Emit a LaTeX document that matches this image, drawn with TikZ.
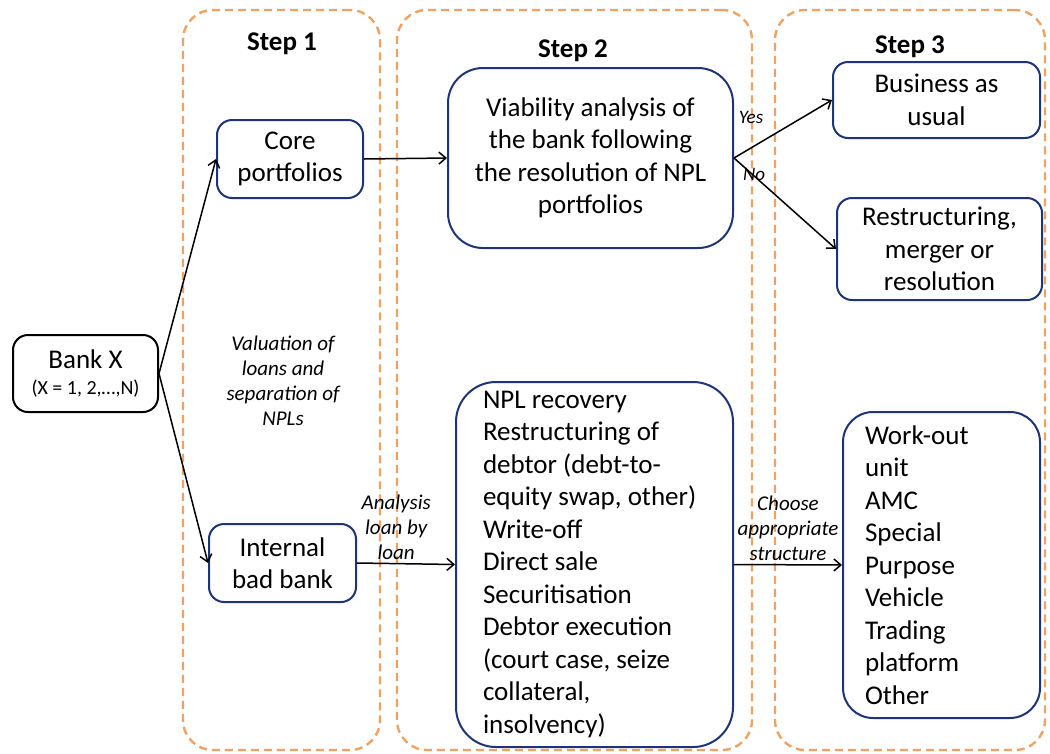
\documentclass[tikz,border=0pt]{standalone}
\usepackage{fontspec}
\setmainfont{Carlito}
\usetikzlibrary{positioning,arrows.meta,calc}

\definecolor{panelorange}{RGB}{238,162,100}
\definecolor{boxblue}{RGB}{30,52,118}

\begin{document}
\begin{tikzpicture}[x=1pt, y=-1pt,
  panel/.style={draw=panelorange, line width=2.4pt, dash pattern=on 8pt off 5pt, rounded corners=30pt, minimum width=#1, minimum height=740pt, inner sep=0pt},
  box/.style={draw=boxblue, line width=2pt, rounded corners=15pt, align=center, inner sep=0pt, font=\fontsize{27}{32.5}\selectfont},
  listbox/.style={draw=boxblue, line width=2pt, align=flush left, font=\fontsize{27}{32.5}\selectfont},
  steplbl/.style={anchor=base, font=\fontsize{27}{32}\selectfont\bfseries},
  lbl/.style={align=center, font=\fontsize{21}{25}\selectfont\itshape},
  yn/.style={anchor=base, font=\fontsize{19}{22}\selectfont\itshape},
  arrow/.style={-{Straight Barb[length=7pt,width=12pt]}, line width=1.5pt},
]
\useasboundingbox (0,0) rectangle (1050,753);
% --- dashed step panels ---
\node[panel=197pt] (p1) at (281.5,380) {};
\node[panel=355pt] (p2) at (574.5,380) {};
\node[panel=270pt] (p3) at (910,380) {};
\node[steplbl] (s1) at (282,50) {Step 1};
\node[steplbl] (s2) at (573,57) {Step 2};
\node[steplbl] (s3) at (910,53) {Step 3};
% --- step 1 ---
\node[box, draw=black, minimum width=145pt, minimum height=77pt] (bank) at (85.5,373.5) {Bank X\\[-6pt]{\fontsize{20}{24}\selectfont (X = 1, 2,…,N)}};
\node[box, minimum width=146pt, minimum height=78pt] (core) at (290,159) {Core\\portfolios};
\node[box, minimum width=147pt, minimum height=78pt] (ibb) at (282.5,563) {Internal\\bad bank};
\node[lbl] (val) at (283,381) {Valuation of\\loans and\\separation of\\NPLs};
\draw[arrow] (bank.east) -- (core.west);
\draw[arrow] (bank.east) -- (ibb.west);
% --- step 2 ---
\node[box, rounded corners=35pt, minimum width=285pt, minimum height=180pt] (via) at (590.5,158) {Viability analysis of\\the bank following\\the resolution of NPL\\portfolios};
\node[listbox, rounded corners=40pt, text width=223pt, inner xsep=27pt, minimum height=365pt] (npl) at (594.5,564.5) {NPL recovery\\Restructuring of\\debtor (debt-to-\\equity swap, other)\\Write-off\\Direct sale\\Securitisation\\Debtor execution\\(court case, seize\\collateral,\\insolvency)};
\draw[arrow] (core.east) -- (via.west);
\draw[arrow] (ibb.east) -- (npl.west) node[lbl, pos=0.4, above, inner sep=3pt] (ana) {Analysis\\loan by\\loan};
% --- step 3 ---
\node[box, minimum width=207pt, minimum height=76pt] (bau) at (936.5,100) {Business as\\usual};
\node[box, minimum width=205pt, minimum height=102pt] (rest) at (939.5,249) {Restructuring,\\merger or\\resolution};
\node[listbox, rounded corners=30pt, text width=153pt, inner xsep=22pt, minimum height=306pt] (wo) at (941.5,565) {Work-out\\unit\\AMC\\Special\\Purpose\\Vehicle\\Trading\\platform\\Other};
\draw[arrow] (via.east) -- (bau.west);
\draw[arrow] (via.east) -- (rest.west);
\node[yn] (yes) at (751,123) {Yes};
\node[yn] (no) at (754,180) {No};
\draw[arrow] (npl.east) -- (wo.west) node[lbl, midway, above, inner sep=3pt] (cho) {Choose\\appropriate\\structure};
\end{tikzpicture}
\end{document}
